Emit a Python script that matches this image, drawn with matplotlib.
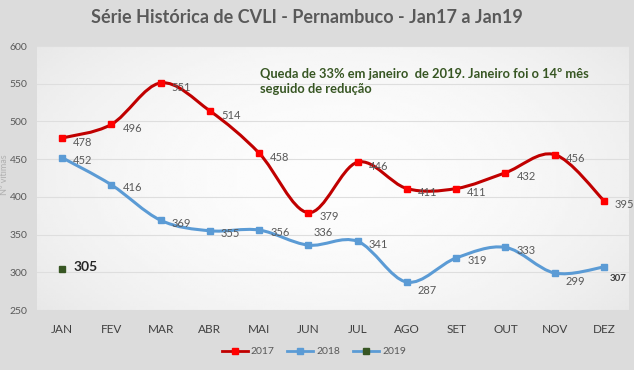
import numpy as np
import matplotlib.pyplot as plt
from matplotlib.path import Path
from matplotlib.patches import PathPatch
from matplotlib.lines import Line2D

months = ['JAN', 'FEV', 'MAR', 'ABR', 'MAI', 'JUN', 'JUL', 'AGO', 'SET', 'OUT', 'NOV', 'DEZ']
v2017 = [478, 496, 551, 514, 458, 379, 446, 411, 411, 432, 456, 395]
v2018 = [452, 416, 369, 355, 356, 336, 341, 287, 319, 333, 299, 307]
v2019 = [305]

red_line, red_mark = '#c00000', '#ff0000'
blue = '#5b9bd5'
green = '#375623'
txt = '#595959'

plt.rcParams['font.family'] = ['Lato', 'DejaVu Sans']


def smooth_path(x, y):
    # Excel-like smoothed line: Catmull-Rom converted to cubic Bezier
    x = np.asarray(x, float)
    y = np.asarray(y, float)
    n = len(x)
    verts = [(x[0], y[0])]
    codes = [Path.MOVETO]
    for i in range(n - 1):
        i0 = max(i - 1, 0)
        i3 = min(i + 2, n - 1)
        c1 = (x[i] + (x[i + 1] - x[i0]) / 6, y[i] + (y[i + 1] - y[i0]) / 6)
        c2 = (x[i + 1] - (x[i3] - x[i]) / 6, y[i + 1] - (y[i3] - y[i]) / 6)
        verts += [c1, c2, (x[i + 1], y[i + 1])]
        codes += [Path.CURVE4] * 3
    return Path(verts, codes)


fig = plt.figure(figsize=(6.34, 3.70), dpi=100, facecolor='#dcdcdc')
ax = fig.add_axes([37.4 / 634, 1 - 310 / 370, (628.6 - 37.4) / 634, 264 / 370])

# plot area gradient
gx = np.linspace(-1, 1, 200)
gy = np.linspace(-1, 1, 100)
GX, GY = np.meshgrid(gx, gy)
shade = 0.99 - 0.05 * (GX ** 2) - 0.03 * (GY ** 2)
ax.imshow(shade, cmap='gray', vmin=0, vmax=1, extent=[0, 1, 0, 1], transform=ax.transAxes,
          aspect='auto', zorder=0, interpolation='bilinear')

x = np.arange(len(months))
ax.set_xlim(-0.5, len(months) - 0.5)
ax.set_ylim(250, 600)
ax.set_yticks(range(250, 601, 50))
ax.set_xticks(x)
ax.set_xticklabels(months)
ax.grid(axis='y', color='#dedede', linewidth=0.8, zorder=1)
for s in ax.spines.values():
    s.set_visible(False)
ax.tick_params(length=0)
ax.tick_params(axis='y', labelsize=7.5, labelcolor=txt, pad=7)
ax.tick_params(axis='x', labelsize=8.5, labelcolor='#404040', pad=10)
fig.text(5 / 634, 1 - 175 / 370, 'Nº vítimas', rotation=90, fontsize=6.5, color='#b0b0b0',
         ha='center', va='center')

ax.add_patch(PathPatch(smooth_path(x, v2017), fill=False, edgecolor=red_line, lw=2.2, zorder=3))
ax.plot(x, v2017, 's', color=red_mark, ms=5, zorder=4)
ax.add_patch(PathPatch(smooth_path(x, v2018), fill=False, edgecolor=blue, lw=2.2, zorder=3))
ax.plot(x, v2018, 's', color=blue, ms=5, zorder=4)
ax.plot(x[:len(v2019)], v2019, 's', color=green, ms=5, zorder=4)

# data labels
for i, v in enumerate(v2017):
    ax.annotate(str(v), (i, v), xytext=(8, -3), textcoords='offset points',
                fontsize=8, color=txt, va='center')
for i, v in enumerate(v2018):
    off = (8, -2)
    if i == 5:
        off = (4, 9)
    elif i in (7, 10):
        off = (8, -6)
    if i == 11:
        ax.annotate(str(v), (i, v), xytext=(4, -8), textcoords='offset points',
                    fontsize=7, color='#404040', fontweight='bold', va='center')
    else:
        ax.annotate(str(v), (i, v), xytext=off, textcoords='offset points',
                    fontsize=8, color=txt, va='center')
ax.annotate(str(v2019[0]), (0, v2019[0]), xytext=(8, 1), textcoords='offset points',
            fontsize=10, color='#262626', fontweight='bold', va='center')

ax.text(0.376, 0.915, 'Queda de 33% em janeiro  de 2019. Janeiro foi o 14º mês\nseguido de redução',
        transform=ax.transAxes, fontsize=9.3, color=green, fontweight='bold',
        va='top', ha='left', linespacing=1.3)

fig.text(307 / 634, 0.953, 'Série Histórica de CVLI - Pernambuco - Jan17 a Jan19',
         ha='center', va='center', fontsize=13, fontweight='bold', color=txt)

handles = [
    Line2D([], [], color=red_line, lw=2, marker='s', mfc=red_mark, mec=red_mark, ms=5),
    Line2D([], [], color=blue, lw=2, marker='s', mfc=blue, mec=blue, ms=5),
    Line2D([], [], color=blue, lw=2, marker='s', mfc=green, mec=green, ms=5),
]
fig.legend(handles, ['2017', '2018', '2019'], loc='center', bbox_to_anchor=(0.495, 0.05),
           ncol=3, frameon=False, fontsize=7.5, labelcolor=txt, handlelength=2.5,
           columnspacing=1.2, handletextpad=0.3)

fig.savefig('out.png', dpi=100, facecolor=fig.get_facecolor())
